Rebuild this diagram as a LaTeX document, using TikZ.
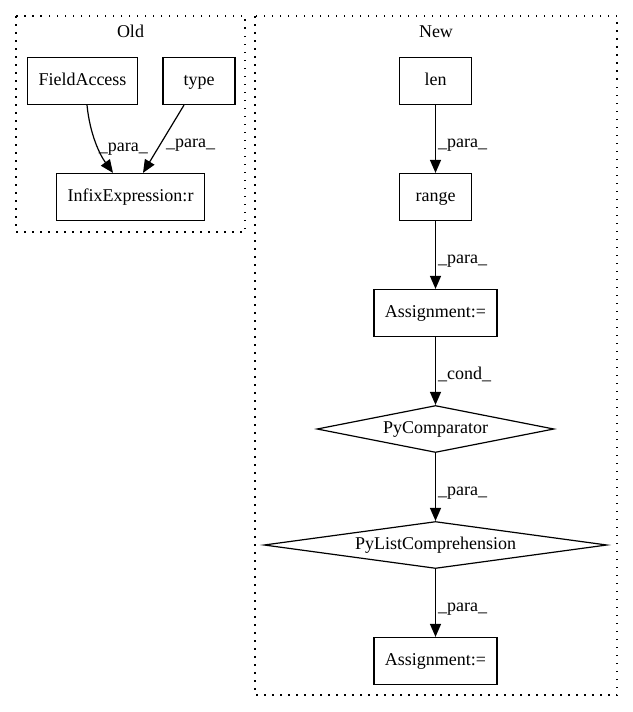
\documentclass[tikz,border=0pt]{standalone}
\usepackage{fontspec}
\setmainfont{Liberation Serif}
\usetikzlibrary{arrows.meta,shapes.geometric}
\tikzstyle{block} = [draw, rectangle, line width=1.2pt,
    minimum height=47pt, minimum width=72pt, inner xsep=11pt]
\tikzstyle{decision} = [draw, diamond, aspect=7, inner sep=0pt,
    line width=1.2pt, minimum height=47pt]
\tikzstyle{cluster} = [draw, line width=1.2pt, dash pattern=on 1.5pt off 6.5pt]
\tikzstyle{title} = [inner sep=0pt]
\tikzstyle{elabel} = [right, inner sep=2pt, yshift=-4pt]

\begin{document}
\begin{tikzpicture}[x=1pt,y=-1pt,node distance=116pt,>={Triangle[length=13pt,width=11pt]},
    font=\fontsize{18}{21}\selectfont, every node/.style={text height=12pt,text depth=4pt}]
    \useasboundingbox (0,0) rectangle (632,712);
    % clusters
    \draw [cluster] (16,16) rectangle (245,232);
    \node [title] (old) at (130.5,33) {Old};
    \draw [cluster] (255,16) rectangle (617,695);
    \node [title] (new) at (436,33) {New};
    % old
    \node [block] (fieldacc) at (82.5,81) {FieldAccess};
    \node [block, right of=fieldacc, node distance=116.5pt] (type) {type};
    \node [block] (infix) at (130.5,197) {InfixExpression:r};
    % new
    \node [block] (len) at (435.5,81) {len};
    \node [block, below of=len] (range) {range};
    \node [block, below of=range] (assignA) {Assignment:=};
    \node [decision, below of=assignA, minimum width=237pt] (pycomp) {PyComparator};
    \node [decision, below of=pycomp, minimum width=343pt] (pylist) {PyListComprehension};
    \node [block, below of=pylist] (assignB) {Assignment:=};
    % edges
    \draw [->,line width=1.2pt] ([xshift=4.5pt]fieldacc.south) .. controls (90,135) and (100,155) .. ([xshift=-17.5pt]infix.north) node [elabel, pos=0.5] {\_para\_};
    \draw [->,line width=1.2pt] ([xshift=-15pt]type.south) -- node [elabel] {\_para\_} ([xshift=12.5pt]infix.north);
    \draw [->,line width=1.2pt] (len) -- node [elabel] {\_para\_} (range);
    \draw [->,line width=1.2pt] (range) -- node [elabel] {\_para\_} (assignA);
    \draw [->,line width=1.2pt] (assignA) -- node [elabel] {\_cond\_} (pycomp);
    \draw [->,line width=1.2pt] (pycomp) -- node [elabel] {\_para\_} (pylist);
    \draw [->,line width=1.2pt] (pylist) -- node [elabel] {\_para\_} (assignB);
\end{tikzpicture}
\end{document}
